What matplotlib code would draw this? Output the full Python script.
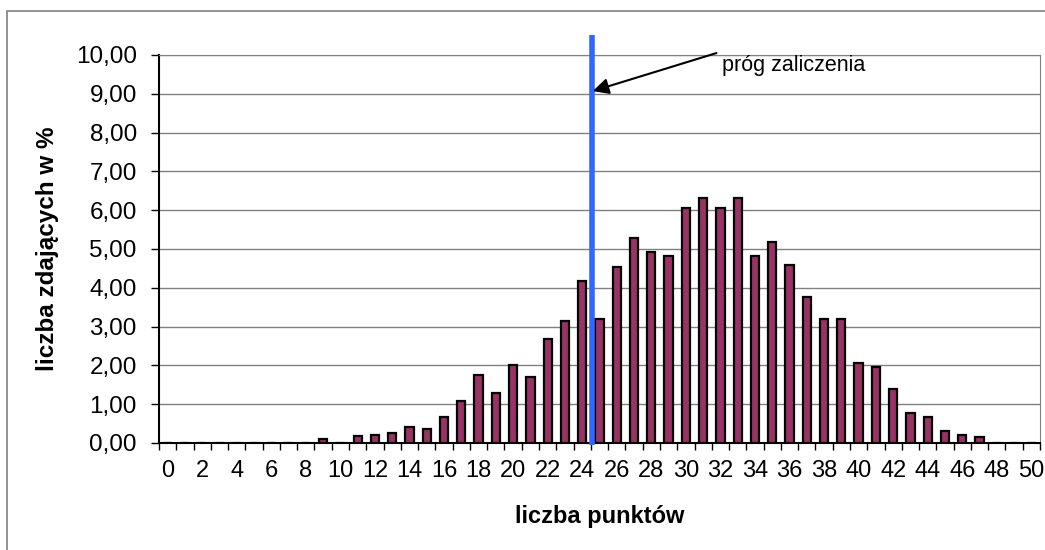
import matplotlib.pyplot as plt
from matplotlib.patches import Rectangle
from matplotlib.ticker import FixedLocator, FuncFormatter

plt.rcParams["font.family"] = ["Liberation Sans", "DejaVu Sans"]

# liczba punktow 0..50 and percent of students
points = list(range(0, 51))
percent = [0, 0, 0, 0, 0, 0, 0, 0, 0, 0.10,
           0, 0.17, 0.21, 0.26, 0.42, 0.37, 0.67, 1.09, 1.76, 1.29,
           2.02, 1.70, 2.67, 3.14, 4.17, 3.19, 4.53, 5.28, 4.92, 4.83,
           6.05, 6.31, 6.05, 6.31, 4.83, 5.18, 4.58, 3.76, 3.19, 3.19,
           2.06, 1.96, 1.40, 0.78, 0.67, 0.32, 0.21, 0.16, 0, 0,
           0]
threshold = 24.56
y_ticks = [0, 1, 2, 3, 4, 5, 6, 7, 8, 9, 10]

fig = plt.figure(figsize=(10.45, 5.5), dpi=100)
ax = fig.add_axes([159 / 1045, 107 / 550, 881 / 1045, 388 / 550])

# outer chart frame (cut off on right and bottom)
fig.patches.append(Rectangle((7 / 1045, -0.1), 1.2, (550 - 11) / 550 + 0.1,
                             transform=fig.transFigure, fill=False,
                             edgecolor="#808080", linewidth=1.2))

ax.bar(points, percent, width=0.48, color="#993366", edgecolor="black",
       linewidth=1.6, zorder=3)

ax.set_xlim(-0.5, 50.5)
ax.set_ylim(0, 10)
ax.yaxis.set_major_locator(FixedLocator(y_ticks))
ax.yaxis.set_major_formatter(FuncFormatter(lambda v, p: f"{v:.2f}".replace(".", ",")))
ax.grid(axis="y", color="#808080", linewidth=1, zorder=1)

ax.set_xticks(points[::2])
ax.set_xticks([p - 0.5 for p in points] + [50.5], minor=True)
ax.tick_params(axis="x", which="major", length=0, labelsize=17, pad=12)
ax.tick_params(axis="x", which="minor", length=5, width=1, direction="out")
ax.tick_params(axis="y", length=6, width=1, labelsize=17.5, pad=10)

for s in ["left", "bottom"]:
    ax.spines[s].set_color("black")
    ax.spines[s].set_linewidth(1.5)
ax.spines["right"].set_color("#808080")
ax.spines["top"].set_color("#808080")

ax.set_xlabel("liczba punktów", fontsize=17, fontweight="bold", labelpad=17)
ax.set_ylabel("liczba zdających w %", fontsize=17.5, fontweight="bold", labelpad=12)

# prog zaliczenia
ax.plot([threshold, threshold], [-0.05, 10.52], color="#3366ff", linewidth=4,
        clip_on=False, zorder=5, solid_capstyle="butt")
ax.annotate("", xy=(threshold + 0.05, 9.07), xytext=(31.77, 10.05),
            arrowprops=dict(arrowstyle="-|>", color="black", lw=1.5,
                            mutation_scale=24, shrinkA=0, shrinkB=0),
            annotation_clip=False, zorder=6)
ax.text(32.1, 9.74, "próg zaliczenia", fontsize=15.5, va="center", ha="left", zorder=6)

fig.savefig("out.png", dpi=100)
